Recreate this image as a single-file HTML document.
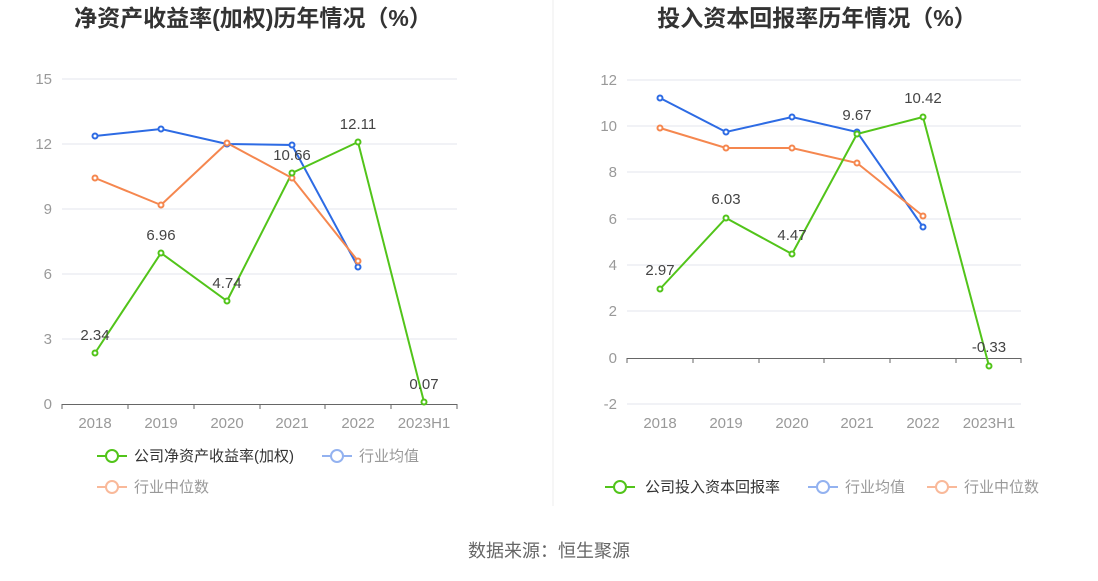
<!DOCTYPE html>
<html><head><meta charset="utf-8"><style>
body{margin:0;background:#fff;}
svg text{font-family:"Liberation Sans","Noto Sans CJK SC",sans-serif;}
</style></head><body>
<svg width="1098" height="576" viewBox="0 0 1098 576" xmlns="http://www.w3.org/2000/svg">
<rect width="1098" height="576" fill="#fff"/>
<line x1="553" y1="0" x2="553" y2="506" stroke="#eee"/>
<!-- Left chart -->
<text x="253" y="26" font-size="23" font-weight="bold" fill="#333" text-anchor="middle">净资产收益率(加权)历年情况（%）</text>
<g stroke="#e3e6ee" stroke-width="1">
<line x1="62" y1="79" x2="457" y2="79"/><line x1="62" y1="144" x2="457" y2="144"/><line x1="62" y1="209" x2="457" y2="209"/><line x1="62" y1="274" x2="457" y2="274"/><line x1="62" y1="339" x2="457" y2="339"/>
</g>
<line x1="62" y1="404.5" x2="457" y2="404.5" stroke="#666"/>
<g stroke="#666"><line x1="62" y1="404" x2="62" y2="409"/><line x1="128" y1="404" x2="128" y2="409"/><line x1="194" y1="404" x2="194" y2="409"/><line x1="260" y1="404" x2="260" y2="409"/><line x1="325" y1="404" x2="325" y2="409"/><line x1="391" y1="404" x2="391" y2="409"/><line x1="457" y1="404" x2="457" y2="409"/></g>
<g font-size="15" fill="#999" text-anchor="end">
<text x="52" y="84">15</text><text x="52" y="149">12</text><text x="52" y="214">9</text><text x="52" y="279">6</text><text x="52" y="344">3</text><text x="52" y="409">0</text></g>
<g font-size="15" fill="#999" text-anchor="middle">
<text x="95" y="428">2018</text><text x="161" y="428">2019</text><text x="227" y="428">2020</text><text x="292" y="428">2021</text><text x="358" y="428">2022</text><text x="424" y="428">2023H1</text></g>
<g fill="#fff" stroke-width="2">
<polyline points="95,136 161,129 227,144 292,145 358,267" fill="none" stroke="#2d6be4"/>
<polyline points="95,178 161,205 227,143 292,178 358,261" fill="none" stroke="#f5874f"/>
<polyline points="95,353 161,253 227,301 292,173 358,142 424,402" fill="none" stroke="#52c41a"/>
<g stroke="#2d6be4"><circle cx="95" cy="136" r="2.5"/><circle cx="161" cy="129" r="2.5"/><circle cx="227" cy="144" r="2.5"/><circle cx="292" cy="145" r="2.5"/><circle cx="358" cy="267" r="2.5"/></g>
<g stroke="#f5874f"><circle cx="95" cy="178" r="2.5"/><circle cx="161" cy="205" r="2.5"/><circle cx="227" cy="143" r="2.5"/><circle cx="292" cy="178" r="2.5"/><circle cx="358" cy="261" r="2.5"/></g>
<g stroke="#52c41a"><circle cx="95" cy="353" r="2.5"/><circle cx="161" cy="253" r="2.5"/><circle cx="227" cy="301" r="2.5"/><circle cx="292" cy="173" r="2.5"/><circle cx="358" cy="142" r="2.5"/><circle cx="424" cy="402" r="2.5"/></g>
</g>
<g font-size="15" fill="#444" text-anchor="middle">
<text x="95" y="340">2.34</text><text x="161" y="240">6.96</text><text x="227" y="288">4.74</text><text x="292" y="160">10.66</text><text x="358" y="129">12.11</text><text x="424" y="389">0.07</text></g>
<g stroke-width="2" fill="#fff">
<line x1="97" y1="456" x2="127" y2="456" stroke="#52c41a"/><circle cx="112" cy="456" r="6" stroke="#52c41a"/>
<line x1="322" y1="456" x2="352" y2="456" stroke="#93b2f0"/><circle cx="337" cy="456" r="6" stroke="#93b2f0"/>
<line x1="97" y1="487" x2="127" y2="487" stroke="#f9b99a"/><circle cx="112" cy="487" r="6" stroke="#f9b99a"/>
</g>
<g font-size="15" fill="#333"><text x="134" y="461">公司净资产收益率(加权)</text></g>
<g font-size="15" fill="#999"><text x="359" y="461">行业均值</text><text x="134" y="492">行业中位数</text></g>

<!-- Right chart -->
<text x="817" y="26" font-size="23" font-weight="bold" fill="#333" text-anchor="middle">投入资本回报率历年情况（%）</text>
<g stroke="#e3e6ee" stroke-width="1">
<line x1="627" y1="80" x2="1021" y2="80"/><line x1="627" y1="126" x2="1021" y2="126"/><line x1="627" y1="172" x2="1021" y2="172"/><line x1="627" y1="219" x2="1021" y2="219"/><line x1="627" y1="265" x2="1021" y2="265"/><line x1="627" y1="311" x2="1021" y2="311"/><line x1="627" y1="404" x2="1021" y2="404"/>
</g>
<line x1="627" y1="358.5" x2="1021" y2="358.5" stroke="#666"/>
<g stroke="#666"><line x1="627" y1="358" x2="627" y2="363"/><line x1="693" y1="358" x2="693" y2="363"/><line x1="759" y1="358" x2="759" y2="363"/><line x1="824" y1="358" x2="824" y2="363"/><line x1="890" y1="358" x2="890" y2="363"/><line x1="956" y1="358" x2="956" y2="363"/><line x1="1021" y1="358" x2="1021" y2="363"/></g>
<g font-size="15" fill="#999" text-anchor="end">
<text x="617" y="85">12</text><text x="617" y="131">10</text><text x="617" y="177">8</text><text x="617" y="224">6</text><text x="617" y="270">4</text><text x="617" y="316">2</text><text x="617" y="363">0</text><text x="617" y="409">-2</text></g>
<g font-size="15" fill="#999" text-anchor="middle">
<text x="660" y="428">2018</text><text x="726" y="428">2019</text><text x="792" y="428">2020</text><text x="857" y="428">2021</text><text x="923" y="428">2022</text><text x="989" y="428">2023H1</text></g>
<g fill="#fff" stroke-width="2">
<polyline points="660,98 726,132 792,117 857,132 923,227" fill="none" stroke="#2d6be4"/>
<polyline points="660,128 726,148 792,148 857,163 923,216" fill="none" stroke="#f5874f"/>
<polyline points="660,289 726,218 792,254 857,134 923,117 989,366" fill="none" stroke="#52c41a"/>
<g stroke="#2d6be4"><circle cx="660" cy="98" r="2.5"/><circle cx="726" cy="132" r="2.5"/><circle cx="792" cy="117" r="2.5"/><circle cx="857" cy="132" r="2.5"/><circle cx="923" cy="227" r="2.5"/></g>
<g stroke="#f5874f"><circle cx="660" cy="128" r="2.5"/><circle cx="726" cy="148" r="2.5"/><circle cx="792" cy="148" r="2.5"/><circle cx="857" cy="163" r="2.5"/><circle cx="923" cy="216" r="2.5"/></g>
<g stroke="#52c41a"><circle cx="660" cy="289" r="2.5"/><circle cx="726" cy="218" r="2.5"/><circle cx="792" cy="254" r="2.5"/><circle cx="857" cy="134" r="2.5"/><circle cx="923" cy="117" r="2.5"/><circle cx="989" cy="366" r="2.5"/></g>
</g>
<g font-size="15" fill="#444" text-anchor="middle">
<text x="660" y="275">2.97</text><text x="726" y="204">6.03</text><text x="792" y="240">4.47</text><text x="857" y="120">9.67</text><text x="923" y="103">10.42</text><text x="989" y="352">-0.33</text></g>
<g stroke-width="2" fill="#fff">
<line x1="605" y1="487" x2="635" y2="487" stroke="#52c41a"/><circle cx="620" cy="487" r="6" stroke="#52c41a"/>
<line x1="808" y1="487" x2="838" y2="487" stroke="#93b2f0"/><circle cx="823" cy="487" r="6" stroke="#93b2f0"/>
<line x1="927" y1="487" x2="957" y2="487" stroke="#f9b99a"/><circle cx="942" cy="487" r="6" stroke="#f9b99a"/>
</g>
<g font-size="15" fill="#333"><text x="645" y="492">公司投入资本回报率</text></g>
<g font-size="15" fill="#999"><text x="845" y="492">行业均值</text><text x="964" y="492">行业中位数</text></g>

<text x="549" y="557" font-size="18" fill="#666" text-anchor="middle">数据来源：恒生聚源</text>
</svg>
</body></html>
